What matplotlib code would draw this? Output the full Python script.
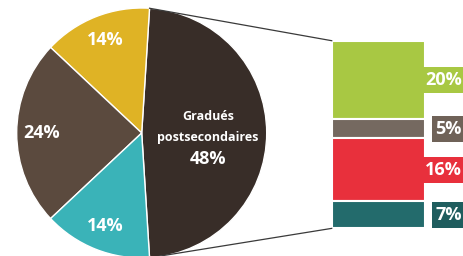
import numpy as np
import matplotlib.pyplot as plt

# pie data
pie_labels = ['48%', '14%', '24%', '14%']
pie_values = [48, 14, 24, 14]
pie_colors = ['#382d28', '#dfb325', '#5b4a3e', '#3ab3b8']
big_title = ['Gradués', 'postsecondaires']

# breakdown of the big slice (top to bottom)
bar_labels = ['20%', '5%', '16%', '7%']
bar_values = [20, 5, 16, 7]
bar_colors = ['#a8c843', '#756960', '#e8303c', '#236b6c']
box_colors = ['#a8c843', '#6f6258', '#e8303c', '#1f5d5e']

plt.rcParams['font.family'] = ['Open Sans', 'DejaVu Sans']

fig = plt.figure(figsize=(4.64, 2.56), dpi=100)
ax = fig.add_axes([0, 0, 1, 1])

# pixel-like coords, y up
cx, cy, R = 141.7, 123.0, 125.0
start = -pie_values[0] / 100 * 180
wedges, _ = ax.pie(pie_values, colors=pie_colors, startangle=start,
                   center=(cx, cy), radius=R, counterclock=True,
                   wedgeprops=dict(edgecolor='white', linewidth=1))

for i, w in enumerate(wedges):
    ang = np.deg2rad((w.theta1 + w.theta2) / 2)
    if i == 0:
        tx = cx + 0.53 * R
        ax.text(tx, cy + 17, big_title[0], color='white', ha='center',
                va='center', fontsize=9, fontweight='bold')
        ax.text(tx, cy - 4, big_title[1], color='white', ha='center',
                va='center', fontsize=9, fontweight='bold')
        ax.text(tx, cy - 26, pie_labels[i], color='white', ha='center',
                va='center', fontsize=13, fontweight='bold')
    else:
        ax.text(cx + 0.8 * R * np.cos(ang), cy + 0.8 * R * np.sin(ang),
                pie_labels[i], color='white', ha='center', va='center',
                fontsize=13, fontweight='bold')

# stacked bar
scale = 3.91
bx0, bw, btop = 331.7, 93.3, 215.3
tops = btop - scale * np.concatenate([[0], np.cumsum(bar_values)[:-1]])
heights = scale * np.array(bar_values)
ax.bar(np.full(4, bx0 + bw / 2), heights, width=bw, bottom=tops - heights,
       color=bar_colors, edgecolor='white', linewidth=1.5)

for t, h, lab, c in zip(tops, heights, bar_labels, box_colors):
    yc = t - h / 2
    ax.text(462, yc, lab, color='white', ha='right', va='center',
            fontsize=13, fontweight='bold',
            bbox=dict(facecolor=c, edgecolor='none', boxstyle='square,pad=0.22'))

# connector lines from the big slice to the bar
w0 = wedges[0]
for th, yb in [(w0.theta2, btop), (w0.theta1, btop - scale * sum(bar_values))]:
    a = np.deg2rad(th)
    ax.plot([cx + R * np.cos(a), bx0], [cy + R * np.sin(a), yb],
            color='#3a3a3a', linewidth=0.9)

ax.set_xlim(0, 464)
ax.set_ylim(0, 256)
ax.set_aspect('equal')
ax.axis('off')

plt.savefig('out.png', dpi=100)
